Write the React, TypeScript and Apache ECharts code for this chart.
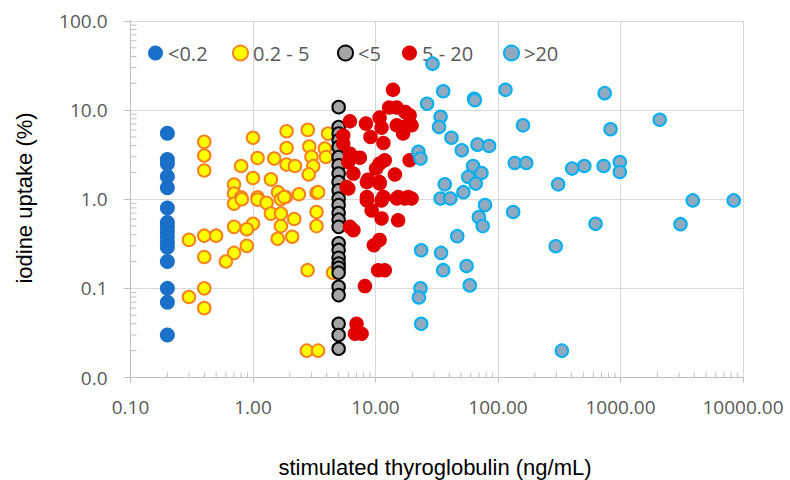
import React, { useEffect, useRef } from "react";
import * as echarts from "echarts";

const seriesNames = ["<0.2", "0.2 - 5", "<5", "5 - 20", ">20"];

const blueX = 0.2;
const blueY = [5.5, 2.8, 2.5, 1.8, 1.35, 0.8, 0.55, 0.49, 0.43, 0.38, 0.33, 0.29, 0.2, 0.1, 0.07, 0.03];

const yellowPts: [number, number][] = [
  [0.4, 4.4], [0.4, 3.1], [0.4, 2.1],
  [1.0, 4.9], [1.88, 5.8], [2.8, 6.0],
  [1.09, 2.9], [1.49, 2.86], [1.88, 3.76], [1.88, 2.45], [2.2, 2.36], [2.88, 3.9], [3.0, 3.0], [3.1, 2.35], [2.85, 1.9],
  [0.8, 2.36], [1.0, 1.73], [1.4, 1.67], [0.7, 1.46], [0.7, 1.16], [0.8, 1.05], [1.09, 1.05], [1.6, 1.2], [1.85, 1.06], [2.37, 1.14], [3.3, 1.18],
  [0.7, 0.89], [0.81, 1.0], [1.09, 0.99], [1.29, 0.91], [1.69, 1.0], [1.8, 1.06],
  [1.4, 0.69], [1.69, 0.69], [3.3, 0.72], [2.17, 0.6], [1.69, 0.5], [3.3, 0.5], [1.0, 0.53], [0.89, 0.46], [0.7, 0.49],
  [2.09, 0.38], [1.59, 0.36], [0.89, 0.3], [0.7, 0.25], [0.6, 0.2], [0.4, 0.225], [0.3, 0.35], [0.4, 0.39], [0.5, 0.39],
  [2.79, 0.16], [0.4, 0.1], [0.3, 0.08], [0.4, 0.06], [2.75, 0.02], [3.4, 0.02],
  [4.1, 5.45], [3.86, 3.7], [3.94, 2.98], [3.4, 1.2], [4.5, 0.15],
];

const greyX = 5;
const greyY = [10.8, 6.46, 5.46, 4.58, 3.86, 2.98, 2.41, 1.94, 1.56, 1.26, 1.02, 0.86, 0.7, 0.59, 0.49, 0.32, 0.27, 0.22, 0.19, 0.17, 0.15, 0.104, 0.084, 0.04, 0.03, 0.021];

const redPts: [number, number][] = [
  [13.9, 16.9], [12.9, 10.7], [14.9, 10.7], [19.0, 8.75], [17.5, 9.5], [6.18, 7.5], [8.36, 7.06], [10.8, 8.24], [11.2, 6.36],
  [14.9, 6.75], [17.7, 6.6], [19.7, 6.75], [16.8, 5.46], [5.45, 5.2], [9.1, 5.0], [11.6, 4.28], [5.45, 4.2], [6.18, 3.25],
  [7.45, 2.93], [6.0, 2.62], [10.8, 2.51], [11.9, 2.74], [10.1, 2.21], [14.4, 1.9], [6.6, 1.94], [8.7, 1.66], [10.8, 1.5],
  [19.0, 2.74], [5.8, 1.37], [8.5, 1.06], [11.6, 1.06], [15.3, 1.06], [18.5, 1.06], [6.0, 1.32], [8.5, 1.56], [10.8, 1.56],
  [8.5, 0.97], [11.2, 0.97], [14.9, 1.02], [17.4, 1.02], [19.7, 1.02], [9.3, 0.75], [11.2, 0.61], [15.3, 0.58], [6.18, 0.49],
  [6.6, 0.45], [10.8, 0.35], [9.7, 0.305], [10.5, 0.16], [11.9, 0.16], [8.2, 0.106], [7.0, 0.04], [6.8, 0.031], [7.7, 0.031],
];

const skyPts: [number, number][] = [
  [29.2, 33.2], [35.7, 16.3], [26.4, 11.8], [63.8, 13.4], [64.7, 12.9], [115, 16.9], [743, 15.5], [34, 8.4], [33, 6.46],
  [41.7, 4.9], [50.6, 3.54], [68, 4.1], [84.6, 3.96], [160, 6.75], [22.4, 3.4], [23.3, 2.86], [62.6, 2.36], [73.3, 1.97],
  [57.2, 1.78], [65.8, 1.5], [137, 2.55], [170, 2.55], [403, 2.21], [507, 2.36], [36.8, 1.47], [310, 1.47], [52.2, 1.2],
  [34, 1.02], [40.8, 1.02], [78.3, 0.86], [69.8, 0.63], [75, 0.5], [133, 0.72], [626, 0.53], [46.5, 0.385], [23.6, 0.268],
  [34.3, 0.25], [55.4, 0.178], [35.7, 0.16], [58.8, 0.108], [296, 0.297], [23.3, 0.1], [22.6, 0.079], [23.6, 0.04],
  [332, 0.02], [829, 6.1], [2090, 7.8], [728, 2.36], [987, 2.62], [987, 2.02], [3890, 0.97], [8400, 0.97], [3090, 0.525],
];

const xMin = 0.1;
const xMax = 10000;
const yMin = 0.01;
const yMax = 100;
const minorMultipliers = [2, 3, 4, 5, 6, 7, 8, 9];
const xDecades = [0.1, 1, 10, 100, 1000];
const yDecades = [0.01, 0.1, 1, 10];

const legendLefts = [143, 227, 332, 397, 498];

const labelFont = "'Open Sans', 'Noto Sans', sans-serif";
const titleFont = "'Liberation Sans', Arial, sans-serif";

export default function App() {
  const ref = useRef<HTMLDivElement>(null);
  useEffect(() => {
    if (!ref.current) return;
    const chart = echarts.init(ref.current, undefined, { renderer: "svg" });

    const xMinor: number[][] = [];
    xDecades.forEach((d) => minorMultipliers.forEach((m) => xMinor.push([+(d * m).toPrecision(3), yMin])));
    const yMinor: number[][] = [];
    yDecades.forEach((d) => minorMultipliers.forEach((m) => yMinor.push([xMin, +(d * m).toPrecision(3)])));

    const tickColor = "#BFBFBF";

    chart.setOption({
      animation: false,
      grid: { left: 130.5, top: 21, right: 47, bottom: 102.5, containLabel: false },
      legend: seriesNames.map((n, i) => ({
        data: [n],
        left: legendLefts[i],
        top: 38,
        itemWidth: 15,
        itemHeight: 15,
        icon: "circle",
        selectedMode: false,
        textStyle: { fontSize: 20, color: "#595959", fontFamily: labelFont, lineHeight: 20 },
      })),
      xAxis: {
        type: "log",
        logBase: 10,
        min: xMin,
        max: xMax,
        axisLine: { show: true, lineStyle: { color: tickColor, width: 1 } },
        axisTick: { show: true, length: 5, lineStyle: { color: tickColor } },
        splitLine: { show: true, lineStyle: { color: "#D9D9D9", width: 1 } },
        axisLabel: {
          fontSize: 19,
          color: "#595959",
          fontFamily: labelFont,
          margin: 20,
          formatter: (v: number) => v.toFixed(2),
        },
      },
      yAxis: {
        type: "log",
        logBase: 10,
        min: yMin,
        max: yMax,
        axisLine: { show: true, lineStyle: { color: tickColor, width: 1 } },
        axisTick: { show: true, length: 7, lineStyle: { color: tickColor } },
        splitLine: { show: true, lineStyle: { color: "#D9D9D9", width: 1 } },
        axisLabel: {
          fontSize: 19,
          color: "#595959",
          fontFamily: labelFont,
          margin: 23,
          formatter: (v: number) => v.toFixed(1),
        },
      },
      graphic: [
        {
          type: "text",
          x: 435,
          y: 467,
          style: {
            text: "stimulated thyroglobulin (ng/mL)",
            fontSize: 22,
            fontFamily: titleFont,
            fill: "#000000",
            align: "center",
            verticalAlign: "middle",
          },
        },
        {
          type: "text",
          x: 24,
          y: 198,
          rotation: Math.PI / 2,
          style: {
            text: "iodine uptake (%)",
            fontSize: 22,
            fontFamily: titleFont,
            fill: "#000000",
            align: "center",
            verticalAlign: "middle",
          },
        },
      ],
      series: [
        {
          type: "custom",
          name: "xMinorTicks",
          silent: true,
          z: 1,
          data: xMinor,
          renderItem: (_p: any, api: any) => {
            const pt = api.coord([api.value(0), api.value(1)]);
            return {
              type: "line",
              shape: { x1: pt[0], y1: pt[1], x2: pt[0], y2: pt[1] - 5 },
              style: { stroke: tickColor, lineWidth: 1 },
            };
          },
        },
        {
          type: "custom",
          name: "yMinorTicks",
          silent: true,
          z: 1,
          data: yMinor,
          renderItem: (_p: any, api: any) => {
            const pt = api.coord([api.value(0), api.value(1)]);
            return {
              type: "line",
              shape: { x1: pt[0], y1: pt[1], x2: pt[0] + 6, y2: pt[1] },
              style: { stroke: tickColor, lineWidth: 1 },
            };
          },
        },
        {
          type: "scatter",
          name: seriesNames[0],
          symbol: "circle",
          symbolSize: 15,
          data: blueY.map((y) => [blueX, y]),
          itemStyle: { color: "#1A70C8", opacity: 1 },
          z: 3,
        },
        {
          type: "scatter",
          name: seriesNames[1],
          symbol: "circle",
          symbolSize: 12.5,
          data: yellowPts,
          itemStyle: { color: "#FFFF00", borderColor: "#F5821F", borderWidth: 2, opacity: 1 },
          z: 4,
        },
        {
          type: "scatter",
          name: seriesNames[2],
          symbol: "circle",
          symbolSize: 12.5,
          data: greyY.map((y) => [greyX, y]),
          itemStyle: { color: "#A5A5A5", borderColor: "#000000", borderWidth: 2, opacity: 1 },
          z: 5,
        },
        {
          type: "scatter",
          name: seriesNames[3],
          symbol: "circle",
          symbolSize: 14.5,
          data: redPts,
          itemStyle: { color: "#E00000", opacity: 1 },
          z: 6,
        },
        {
          type: "scatter",
          name: seriesNames[4],
          symbol: "circle",
          symbolSize: 12.5,
          data: skyPts,
          itemStyle: { color: "#8FA9C1", borderColor: "#00B0F0", borderWidth: 2, opacity: 1 },
          z: 7,
        },
      ],
    });
    return () => chart.dispose();
  }, []);
  return (
    <div
      ref={ref}
      style={{ position: "fixed", left: 0, top: 0, width: 790, height: 480, background: "#ffffff" }}
    />
  );
}
